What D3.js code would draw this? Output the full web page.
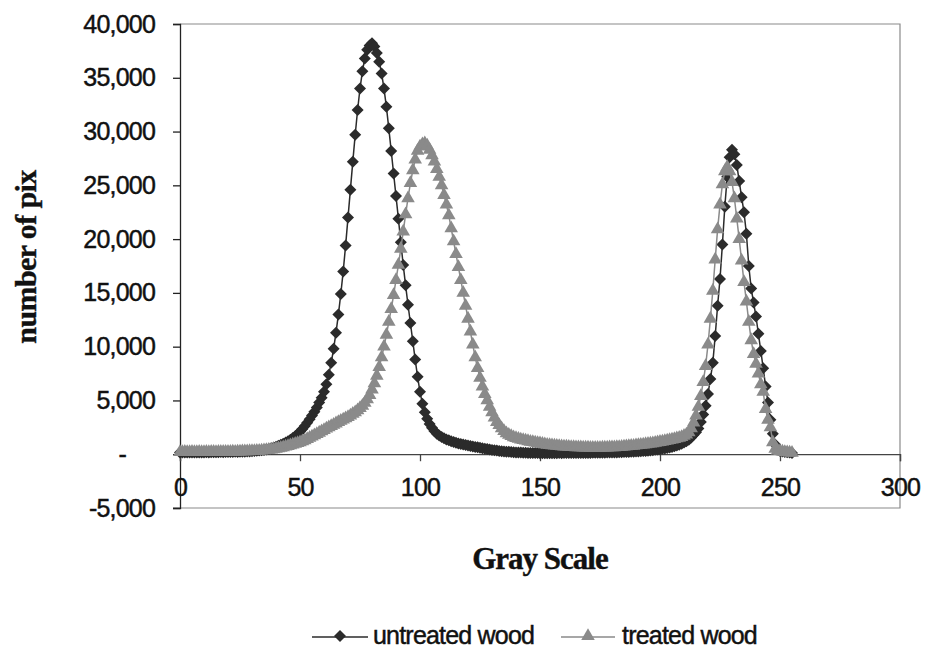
<!DOCTYPE html>
<html>
<head>
<meta charset="utf-8">
<script src="https://cdn.jsdelivr.net/npm/d3@7"></script>
<style>
  html, body { margin: 0; padding: 0; background: #fff; }
  svg { display: block; }
</style>
</head>
<body>
<svg id="chart" width="930" height="649"></svg>
<script>
// ---- data ----
const grayLevels = d3.range(0, 256); // x categories 0..255
const untreatedWood = [
  150,150,160,150,170,160,150,170,160,170,
  170,180,170,180,190,180,190,200,190,200,
  200,210,200,220,210,230,220,240,250,260,
  280,300,320,340,370,400,440,490,550,620,
  700,780,870,970,1080,1200,1340,1500,1680,1880,
  2100,2350,2620,2920,3250,3600,3950,4350,4800,5250,
  5800,6500,7400,8500,9800,11300,13000,14900,17000,19400,
  22000,24600,27200,29700,32000,34000,35600,36800,37600,38000,
  38200,37900,37300,36500,35400,34000,32300,30300,28200,26100,
  24000,21900,19700,17600,15700,13900,12200,10500,8800,7200,
  5800,4700,3900,3300,2800,2450,2150,1900,1750,1600,
  1480,1380,1290,1200,1130,1060,1000,950,900,850,
  800,760,720,680,640,600,560,520,480,440,
  400,370,340,310,280,260,240,220,200,180,
  170,160,150,140,130,125,120,115,110,105,
  100,95,100,95,100,95,100,100,105,100,
  105,110,105,110,110,115,110,115,120,120,
  125,125,130,130,135,140,140,145,150,155,
  160,165,170,180,185,195,200,210,220,230,
  245,260,275,290,310,330,350,380,410,440,
  470,500,540,580,630,680,740,810,890,980,
  1080,1200,1350,1550,1800,2050,2400,3000,3700,4500,
  5600,7000,8500,11000,13800,16300,19500,23000,25800,27600,
  28300,27900,26900,25400,23900,22500,20500,17500,15400,14100,
  12800,11200,9600,8000,6300,4800,3200,1900,900,450,
  300,250,200,180,150,120
];
const treatedWood = [
  200,190,210,200,190,210,200,200,210,190,
  200,210,200,220,210,200,220,210,220,230,
  220,230,240,230,250,240,260,260,270,280,
  290,300,310,320,340,360,380,400,430,460,
  500,540,590,640,700,760,820,890,960,1030,
  1100,1200,1300,1400,1520,1640,1760,1880,2000,2120,
  2250,2380,2500,2620,2740,2860,2980,3100,3220,3340,
  3460,3600,3750,3900,4080,4280,4500,4780,5100,5500,
  6000,6600,7300,8100,9000,10000,11100,12300,13500,14800,
  16200,17600,19100,20700,22300,23800,25200,26400,27400,28200,
  28600,28800,28900,28700,28300,27800,27200,26500,25800,25000,
  24100,23200,22200,21000,19800,18600,17400,16200,15000,13800,
  12600,11400,10200,9000,8000,7100,6300,5600,5000,4400,
  3900,3400,3000,2700,2400,2150,1950,1800,1680,1580,
  1500,1430,1370,1310,1260,1210,1160,1120,1080,1040,
  1000,960,920,880,850,820,800,780,760,740,
  720,700,680,670,660,650,640,630,620,610,
  610,600,600,590,600,600,610,610,620,630,
  640,650,660,670,690,710,730,750,770,790,
  820,840,870,900,930,960,990,1020,1060,1100,
  1140,1180,1220,1260,1310,1360,1410,1470,1530,1600,
  1700,1830,2030,2400,2950,3600,4400,5400,6700,8200,
  10200,12600,15200,18100,20900,23200,25100,26300,26700,26300,
  25300,23800,21900,20000,18000,16000,14200,12300,10600,9300,
  8400,7500,6500,5800,4200,3200,2500,1100,500,350,
  300,250,200,180,150,120
];
const xTicks = [0, 50, 100, 150, 200, 250, 300];
const yTicks = [-5000, 0, 5000, 10000, 15000, 20000, 25000, 30000, 35000, 40000];
const seriesNames = ["untreated wood", "treated wood"];
const xTitle = "Gray Scale";
const yTitle = "number of pix";

// ---- layout ----
const svg = d3.select("#chart");
const padL = 180, padR = 900, padT = 24, padB = 508;
const x = d3.scaleLinear().domain([0, 300]).range([padL, padR]);
const y = d3.scaleLinear().domain([-5000, 40000]).range([padB, padT]);

const darkCol = "#2b2b2b", grayCol = "#8a8a8a";
const tickFont = "'Liberation Sans', Arial, sans-serif";

// plot area frame (top, right, bottom)
svg.append("path")
  .attr("d", `M${padL},${padT}H${padR}V${padB}H${padL - 7}`)
  .attr("fill", "none").attr("stroke", "#8a8a8a").attr("stroke-width", 1.2);

function styleText(sel) {
  sel.attr("font-family", tickFont).attr("font-size", 25).attr("fill", "#111")
    .attr("stroke", "#111").attr("stroke-width", 0.45)
    .attr("letter-spacing", "-0.8px");
}

// y axis
const yAxis = d3.axisLeft(y).tickValues(yTicks).tickSizeOuter(0).tickSize(7).tickPadding(18)
  .tickFormat(d => d === 0 ? "-" : (d < 0 ? "-" : "") + d3.format(",")(Math.abs(d)));
const gy = svg.append("g").attr("transform", `translate(${padL},0)`).call(yAxis);
gy.select(".domain").attr("stroke", "#222").attr("stroke-width", 1.3);
gy.selectAll(".tick line").attr("stroke", "#222").attr("stroke-width", 1.3);
styleText(gy.selectAll(".tick text"));
gy.selectAll(".tick").filter(d => d === 0).select("text").attr("x", -54);

// x axis at zero
const xAxis = d3.axisBottom(x).tickValues(xTicks).tickSizeOuter(0).tickSize(7).tickPadding(17)
  .tickFormat(d3.format("d"));
const gx = svg.append("g").attr("transform", `translate(0,${y(0)})`).call(xAxis);
gx.select(".domain").attr("stroke", "#444").attr("stroke-width", 1.3);
gx.selectAll(".tick line").attr("stroke", "#444").attr("stroke-width", 1.3);
styleText(gx.selectAll(".tick text"));

// series
const lineGen = d3.line().x((d, i) => x(grayLevels[i])).y(d => y(d));
const diamond = d3.symbol().type(d3.symbolSquare).size(72);
const triangle = d3.symbol().type(d3.symbolTriangle).size(80);

function drawSeries(values, color, sym, rot) {
  const g = svg.append("g");
  g.append("path").attr("d", lineGen(values))
    .attr("fill", "none").attr("stroke", color).attr("stroke-width", 1.5);
  g.selectAll("path.m").data(values).join("path").attr("class", "m")
    .attr("d", sym)
    .attr("transform", (d, i) => `translate(${x(grayLevels[i])},${y(d)}) rotate(${rot})`)
    .attr("fill", color);
}
drawSeries(untreatedWood, darkCol, diamond, 45);
drawSeries(treatedWood, grayCol, triangle, 0);

// axis titles
svg.append("text").attr("x", 540).attr("y", 569).attr("text-anchor", "middle")
  .attr("font-family", "'Liberation Serif', 'Times New Roman', serif")
  .attr("font-weight", "bold").attr("font-size", 31).attr("letter-spacing", "-1px")
  .attr("fill", "#111").attr("stroke", "#111").attr("stroke-width", 0.4).text(xTitle);
svg.append("text").attr("transform", "translate(36,257) rotate(-90)").attr("text-anchor", "middle")
  .attr("font-family", "'Liberation Serif', 'Times New Roman', serif")
  .attr("font-weight", "bold").attr("font-size", 30).attr("letter-spacing", "-0.6px")
  .attr("fill", "#111").attr("stroke", "#111").attr("stroke-width", 0.4).text(yTitle);

// legend
const legY = 637;
const legend = [
  { name: seriesNames[0], color: darkCol, sym: diamond, rot: 45, x0: 312, x1: 368, tx: 373 },
  { name: seriesNames[1], color: grayCol, sym: triangle, rot: 0, x0: 561, x1: 615, tx: 622 }
];
legend.forEach(l => {
  svg.append("line").attr("x1", l.x0).attr("x2", l.x1).attr("y1", legY).attr("y2", legY)
    .attr("stroke", l.color).attr("stroke-width", 1.6);
  svg.append("path").attr("d", l.sym)
    .attr("transform", `translate(${(l.x0 + l.x1) / 2},${legY - 1}) rotate(${l.rot})`)
    .attr("fill", l.color);
  const t = svg.append("text").attr("x", l.tx).attr("y", 644).text(l.name);
  styleText(t);
});
</script>
</body>
</html>
